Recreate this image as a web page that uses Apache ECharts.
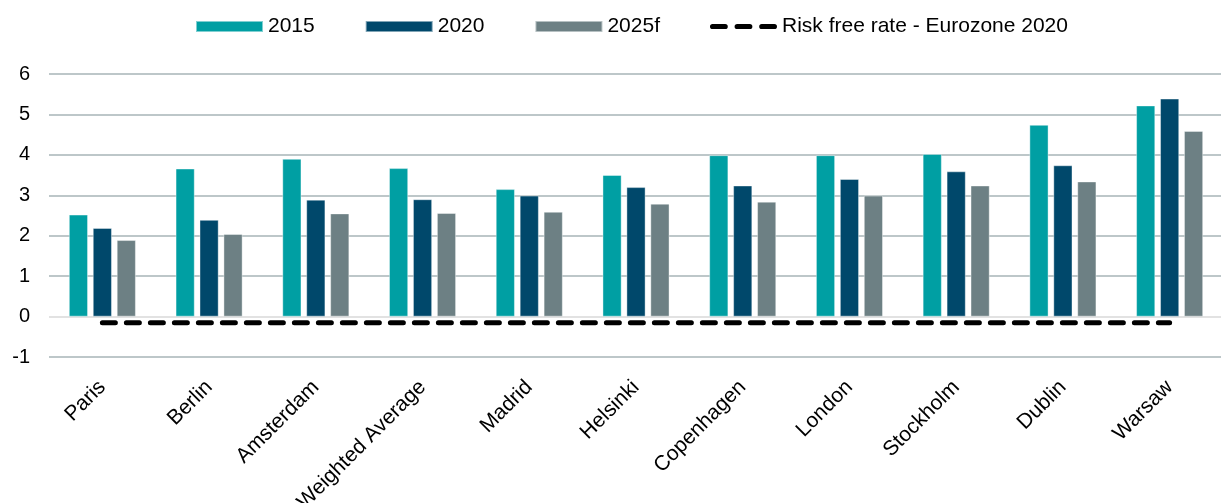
<!DOCTYPE html>
<html>
<head>
<meta charset="utf-8">
<script src="https://cdn.jsdelivr.net/npm/echarts@6/dist/echarts.min.js"></script>
<style>
  html, body { margin: 0; padding: 0; background: #ffffff; }
  #chart { width: 1221px; height: 503px; }
</style>
</head>
<body>
<div id="chart"></div>
<script>
// Prime yields by city (%)
const cities = ['Paris', 'Berlin', 'Amsterdam', 'Weighted Average', 'Madrid', 'Helsinki',
  'Copenhagen', 'London', 'Stockholm', 'Dublin', 'Warsaw'];
const yields2015 = [2.52, 3.66, 3.90, 3.67, 3.15, 3.50, 3.99, 3.99, 4.02, 4.74, 5.22];
const yields2020 = [2.19, 2.39, 2.89, 2.90, 2.99, 3.20, 3.24, 3.40, 3.59, 3.74, 5.39];
const yields2025f = [1.89, 2.04, 2.55, 2.56, 2.59, 2.79, 2.84, 2.99, 3.24, 3.34, 4.59];
const riskFreeRate = [-0.15, -0.15, -0.15, -0.15, -0.15, -0.15, -0.15, -0.15, -0.15, -0.15, -0.15];
const yTicks = [-1, 0, 1, 2, 3, 4, 5, 6];

const font = 'Liberation Sans, Arial, sans-serif';
const chart = echarts.init(document.getElementById('chart'), null, { renderer: 'canvas' });

const barSeries = (name, data, color) => ({
  name, type: 'bar', data,
  barWidth: 19, barGap: '26%',
  itemStyle: { color, borderColor: 'rgba(255,255,255,0.5)', borderWidth: 0.8 },
  z: 2
});

// Three rounded dashes for the risk-free legend key
const pill = x => `M${x + 2.5},0H${x + 14.5}A2.5,2.5 0 0 1 ${x + 14.5},5H${x + 2.5}A2.5,2.5 0 0 1 ${x + 2.5},0Z`;
const dashIcon = 'path://' + pill(0) + pill(23.5) + pill(47);

// Zero line drawn lighter than the other gridlines
const gridColors = yTicks.map(v => (v === 0 ? '#D9D9D9' : '#A7B5B7'));

chart.setOption({
  animation: false,
  textStyle: { fontFamily: font },
  legend: {
    left: 195, top: 16, padding: 0,
    itemWidth: 67, itemHeight: 11, itemGap: 50,
    textStyle: { fontSize: 21, color: '#000', fontFamily: font },
    data: [
      { name: '2015', icon: 'rect' },
      { name: '2020', icon: 'rect' },
      { name: '2025f', icon: 'rect' },
      { name: 'Risk free rate - Eurozone 2020', icon: dashIcon, itemStyle: { color: '#000' } }
    ]
  },
  grid: { left: 49, right: -2, top: 74, bottom: 146, containLabel: false, outerBoundsMode: 'none' },
  xAxis: {
    type: 'category', data: cities,
    axisTick: { show: false },
    axisLine: { show: false, onZero: false },
    axisLabel: { rotate: 45, fontSize: 21, color: '#000', margin: 27, interval: 0, fontFamily: font }
  },
  yAxis: {
    type: 'value', min: yTicks[0], max: yTicks[yTicks.length - 1], interval: 1,
    axisLine: { show: false }, axisTick: { show: false },
    axisLabel: { fontSize: 20, color: '#000', margin: 19, fontFamily: font },
    splitLine: { lineStyle: { color: gridColors, width: 1.5 } }
  },
  series: [
    barSeries('2015', yields2015, '#009FA3'),
    barSeries('2020', yields2020, '#00486B'),
    barSeries('2025f', yields2025f, '#6D8084'),
    {
      name: 'Risk free rate - Eurozone 2020', type: 'line', data: riskFreeRate,
      symbol: 'none', z: 3,
      itemStyle: { color: '#000' },
      lineStyle: { color: '#000', width: 5, type: [13, 11], cap: 'round' }
    }
  ]
});
</script>
</body>
</html>
